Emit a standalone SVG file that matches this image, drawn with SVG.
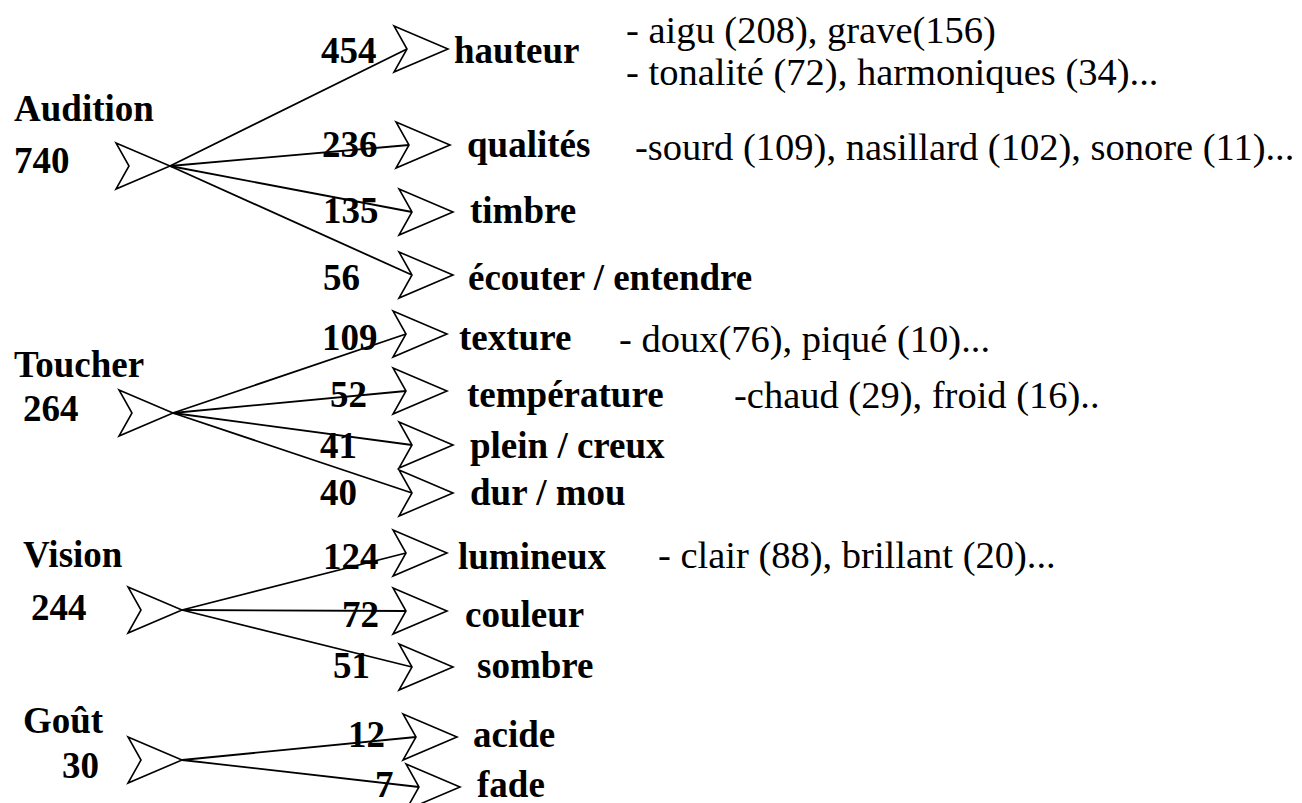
<svg xmlns="http://www.w3.org/2000/svg" xmlns:xlink="http://www.w3.org/1999/xlink" width="1302" height="803" viewBox="0 0 1302 803">
<style>
text{font-family:"Liberation Serif","Times New Roman",serif;fill:#000}
.b{font-weight:bold;font-size:37px}
.r{font-size:38.5px}
.chev{fill:#fff;stroke:#000;stroke-width:1.6;stroke-linejoin:miter}
.con line{stroke:#000;stroke-width:1.8}
</style>
<defs>
<path id="chev" d="M-54,-23 L0,0 L-54,23 L-41,0 Z"/>
</defs>
<rect width="1302" height="803" fill="#fff"/>
<g id="connectors" class="con">
<line x1="170" y1="166" x2="407" y2="49"/>
<line x1="170" y1="166" x2="409" y2="145"/>
<line x1="170" y1="166" x2="412" y2="212"/>
<line x1="170" y1="166" x2="412" y2="275"/>
<line x1="173" y1="413" x2="406" y2="334"/>
<line x1="173" y1="413" x2="406" y2="391"/>
<line x1="173" y1="413" x2="412" y2="445"/>
<line x1="173" y1="413" x2="412" y2="493"/>
<line x1="182" y1="610" x2="406" y2="553"/>
<line x1="182" y1="610" x2="406" y2="611"/>
<line x1="182" y1="610" x2="412" y2="667"/>
<line x1="182" y1="760" x2="416" y2="737"/>
<line x1="182" y1="760" x2="419" y2="787"/>
</g>
<g id="audition"><text class="b" x="14" y="121">Audition</text><text class="b" x="14" y="173">740</text><use href="#chev" class="chev" transform="translate(170,166)"/></g>
<g id="toucher"><text class="b" x="14" y="377">Toucher</text><text class="b" x="23" y="421">264</text><use href="#chev" class="chev" transform="translate(173,413)"/></g>
<g id="vision"><text class="b" x="23" y="567">Vision</text><text class="b" x="31" y="620">244</text><use href="#chev" class="chev" transform="translate(182,610)"/></g>
<g id="gout"><text class="b" x="23" y="733">Goût</text><text class="b" x="62" y="778">30</text><use href="#chev" class="chev" transform="translate(182,760)"/></g>
<g id="hauteur"><text class="b" x="321" y="63">454</text><use href="#chev" class="chev" transform="translate(448,49)"/><text class="b" x="454" y="63">hauteur</text><text class="r" x="626" y="43">- aigu (208), grave(156)</text><text class="r" x="626" y="85">- tonalité (72), harmoniques (34)...</text></g>
<g id="qualites"><text class="b" x="322" y="157">236</text><use href="#chev" class="chev" transform="translate(450,145)"/><text class="b" x="467" y="157">qualités</text><text class="r" x="635" y="160">-sourd (109), nasillard (102), sonore (11)...</text></g>
<g id="timbre"><text class="b" x="323" y="223">135</text><use href="#chev" class="chev" transform="translate(453,212)"/><text class="b" x="470" y="223">timbre</text></g>
<g id="ecouter"><text class="b" x="323" y="290">56</text><use href="#chev" class="chev" transform="translate(453,275)"/><text class="b" x="468" y="290">écouter / entendre</text></g>
<g id="texture"><text class="b" x="322" y="350">109</text><use href="#chev" class="chev" transform="translate(447,334)"/><text class="b" x="459" y="350">texture</text><text class="r" x="619" y="352">- doux(76), piqué (10)...</text></g>
<g id="temperature"><text class="b" x="330" y="407">52</text><use href="#chev" class="chev" transform="translate(447,391)"/><text class="b" x="467" y="407">température</text><text class="r" x="734" y="408">-chaud (29), froid (16)..</text></g>
<g id="plein"><text class="b" x="320" y="458">41</text><use href="#chev" class="chev" transform="translate(453,445)"/><text class="b" x="470" y="458">plein / creux</text></g>
<g id="dur"><text class="b" x="320" y="505">40</text><use href="#chev" class="chev" transform="translate(453,493)"/><text class="b" x="470" y="505">dur / mou</text></g>
<g id="lumineux"><text class="b" x="323" y="569">124</text><use href="#chev" class="chev" transform="translate(447,553)"/><text class="b" x="458" y="569">lumineux</text><text class="r" x="658" y="568">- clair (88), brillant (20)...</text></g>
<g id="couleur"><text class="b" x="342" y="627">72</text><use href="#chev" class="chev" transform="translate(447,611)"/><text class="b" x="465" y="627">couleur</text></g>
<g id="sombre"><text class="b" x="333" y="678">51</text><use href="#chev" class="chev" transform="translate(453,667)"/><text class="b" x="477" y="678">sombre</text></g>
<g id="acide"><text class="b" x="348" y="747">12</text><use href="#chev" class="chev" transform="translate(457,737)"/><text class="b" x="473" y="747">acide</text></g>
<g id="fade"><text class="b" x="375" y="797">7</text><use href="#chev" class="chev" transform="translate(460,787)"/><text class="b" x="477" y="797">fade</text></g>
</svg>
